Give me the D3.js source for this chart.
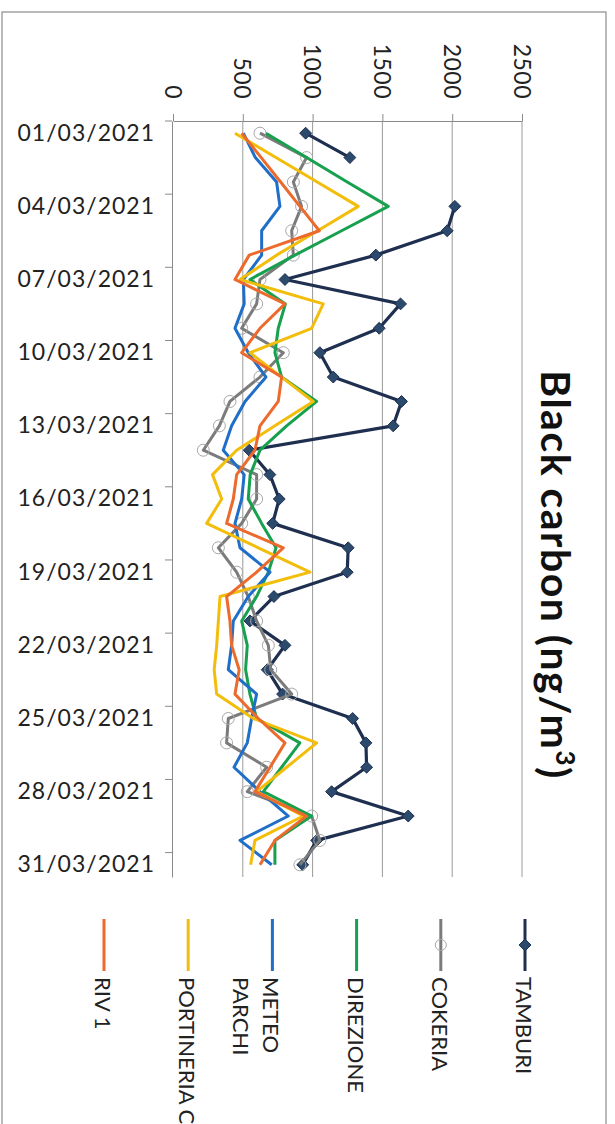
<!DOCTYPE html>
<html><head><meta charset="utf-8">
<script src="https://cdn.jsdelivr.net/npm/d3@7"></script>
<style>body{margin:0;background:#fff} svg{display:block}</style>
</head><body><svg id="c" width="615" height="1124"></svg>
<script>
const dates = ["01/03/2021","02/03/2021","03/03/2021","04/03/2021","05/03/2021","06/03/2021","07/03/2021","08/03/2021","09/03/2021","10/03/2021","11/03/2021","12/03/2021","13/03/2021","14/03/2021","15/03/2021","16/03/2021","17/03/2021","18/03/2021","19/03/2021","20/03/2021","21/03/2021","22/03/2021","23/03/2021","24/03/2021","25/03/2021","26/03/2021","27/03/2021","28/03/2021","29/03/2021","30/03/2021","31/03/2021"];
const dateTickLabels = ["01/03/2021","04/03/2021","07/03/2021","10/03/2021","13/03/2021","16/03/2021","19/03/2021","22/03/2021","25/03/2021","28/03/2021","31/03/2021"];
const valueTicks = [0,500,1000,1500,2000,2500];
const seriesNames = ["TAMBURI","COKERIA","DIREZIONE","METEO PARCHI","PORTINERIA C","RIV 1"];
const tamburi   = [950,1267,null,2019,1964,1453,802,1630,1477,1052,1148,1637,1577,546,694,761,714,1255,1248,723,551,802,675,785,1287,1382,1387,1136,1685,1029,929];
const cokeria   = [623,957,862,921,850,862,623,599,492,790,623,408,332,217,599,599,492,325,456,539,599,683,700,850,396,384,671,532,993,1052,909];
const direzione = [666,957,1248,1542,1208,874,551,805,754,730,778,1029,814,623,553,539,635,738,683,599,492,532,520,551,599,909,778,647,993,730,730];
const meteoParchi = [504,590,742,766,635,635,504,510,444,539,666,516,420,360,510,492,444,480,695,539,432,420,396,599,563,532,437,623,826,480,707];
const portineria = [444,737,1033,1327,1036,742,480,1076,993,551,778,1005,730,456,283,349,241,611,981,337,325,313,295,313,575,1029,814,599,933,587,556];
const riv1      = [492,632,771,909,1048,546,444,802,623,492,778,754,623,587,456,432,384,790,599,384,408,420,474,444,611,802,695,587,957,730,623];
const seriesValues = [tamburi,cokeria,direzione,meteoParchi,portineria,riv1];
const seriesColors = ["#1e2f50","#7b7b7b","#17a04e","#1f6ec8","#f3bd0b","#ec6a2c"];
const titleMain = "Black carbon  (ng/m";
const titleSup = "3";

const svg = d3.select("#c");
const FONT = "Lato, 'Open Sans', sans-serif";

// chart border
svg.append("rect").attr("x",2).attr("y",12).attr("width",604).attr("height",1200)
  .attr("fill","none").attr("stroke","#8c8c8c").attr("stroke-width",1.2);

const x = d3.scaleLinear().domain([0,2500]).range([173,522]);
const y = d3.scaleBand().domain(dates).range([121,877]).padding(0);
const bw = y.bandwidth();

// gridlines
svg.append("g").selectAll("line").data(valueTicks.filter(v=>v>0)).join("line")
  .attr("x1",d=>x(d)).attr("x2",d=>x(d)).attr("y1",121).attr("y2",877)
  .attr("stroke","#9a9a9a").attr("stroke-width",1);

// value axis (top)
const xa = svg.append("g").attr("transform","translate(0,121)")
  .call(d3.axisTop(x).tickValues(valueTicks).tickFormat(d3.format("d")).tickSize(7).tickSizeOuter(0));
xa.select(".domain").attr("stroke","#8a8a8a");
xa.selectAll(".tick line").attr("stroke","#8a8a8a");
xa.selectAll(".tick text").attr("y",null).attr("dy",null)
  .attr("transform","translate(0,-22) rotate(90)")
  .attr("text-anchor","end").attr("dominant-baseline","central")
  .attr("font-family",FONT).attr("font-size",23).attr("letter-spacing","0.5px").attr("fill","#222");

// date axis (left)
const ya = svg.append("g").attr("transform","translate(172,0)")
  .call(d3.axisLeft(y).tickValues(dateTickLabels).tickSize(0).tickPadding(17).tickSizeOuter(0));
ya.select(".domain").attr("stroke","#8a8a8a");
ya.selectAll(".tick text").attr("font-family",FONT).attr("font-size",23)
  .attr("letter-spacing","1px").attr("fill","#222");
// tick marks at category boundaries
svg.append("g").selectAll("line").data(dateTickLabels).join("line")
  .attr("x1",165).attr("x2",172).attr("y1",d=>y(d)).attr("y2",d=>y(d))
  .attr("stroke","#8a8a8a");

// series
const line = d3.line().defined(d=>d.v!=null).x(d=>x(d.v)).y(d=>y(d.date)+bw/2);
seriesValues.forEach((vals,i)=>{
  const pts = vals.map((v,j)=>({date:dates[j],v}));
  svg.append("path").datum(pts).attr("d",line).attr("fill","none")
    .attr("stroke",seriesColors[i]).attr("stroke-width",i===0?3.2:3)
    .attr("stroke-linejoin","round");
  if(i===0){
    svg.append("g").selectAll("path").data(pts.filter(d=>d.v!=null)).join("path")
      .attr("d",d3.symbol(d3.symbolDiamond2,90))
      .attr("transform",d=>`translate(${x(d.v)},${y(d.date)+bw/2})`)
      .attr("fill","#2b4a6c").attr("stroke","#1e2f50").attr("stroke-width",1);
  }
  if(i===1){
    svg.append("g").selectAll("circle").data(pts.filter(d=>d.v!=null)).join("circle")
      .attr("cx",d=>x(d.v)).attr("cy",d=>y(d.date)+bw/2).attr("r",6)
      .attr("fill","none").attr("stroke","#a8a8a8").attr("stroke-width",1);
  }
});

// title
const t = svg.append("text").attr("transform","translate(541,575) rotate(90)")
  .attr("text-anchor","middle").attr("font-family",FONT).attr("font-weight","bold")
  .attr("font-size",41).attr("letter-spacing","1.5px").attr("fill","#111");
t.append("tspan").text(titleMain);
t.append("tspan").attr("dy",-15).attr("font-size",26).text(titleSup);
t.append("tspan").attr("dy",15).text(")");

// legend
const lx = d3.scaleLinear().domain([0,5]).range([525,104]);
const lg = svg.append("g").selectAll("g").data(seriesNames).join("g")
  .attr("transform",(d,i)=>`translate(${lx(i)},0)`);
lg.append("line").attr("x1",0).attr("x2",0).attr("y1",919).attr("y2",971)
  .attr("stroke",(d,i)=>seriesColors[i]).attr("stroke-width",3);
lg.filter((d,i)=>i===0).append("path").attr("d",d3.symbol(d3.symbolDiamond2,90))
  .attr("transform","translate(0,945)").attr("fill","#2b4a6c").attr("stroke","#1e2f50");
lg.filter((d,i)=>i===1).append("circle").attr("cx",0).attr("cy",945).attr("r",5.5)
  .attr("fill","none").attr("stroke","#a8a8a8");
const lt = lg.append("text").attr("transform","translate(0,977) rotate(90)")
  .attr("text-anchor","start").attr("dominant-baseline","central")
  .attr("font-family",FONT).attr("font-size",22).attr("fill","#222");
lt.each(function(d){
  const words = d==="METEO PARCHI" ? ["METEO","PARCHI"] : [d];
  d3.select(this).selectAll("tspan").data(words).join("tspan")
    .attr("x",0).attr("dy",(w,k)=>k===0?0:30).text(w=>w);
});
</script></body></html>
